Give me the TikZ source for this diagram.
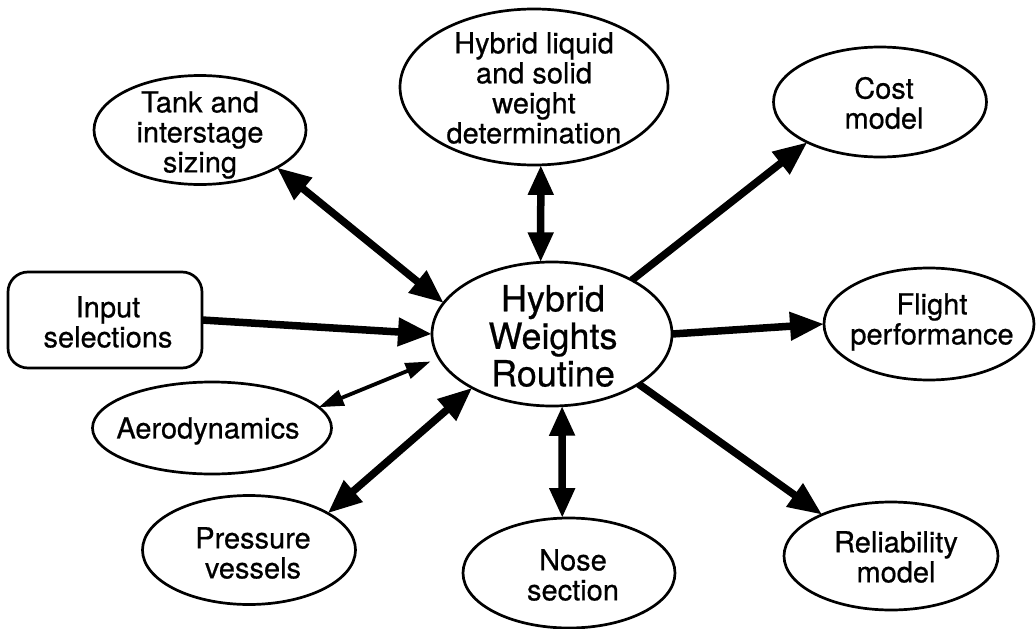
\documentclass[tikz,border=0pt]{standalone}
\usepackage{fontspec}
\setmainfont{TeX Gyre Heros}[FakeBold=0.6]
\usetikzlibrary{arrows.meta,shapes.geometric}
\tikzset{
  ell/.style={draw, ellipse, line width=2.7pt, inner sep=0pt, outer sep=0pt},
  rbox/.style={draw, rectangle, rounded corners=20pt, line width=2.7pt, inner sep=0pt, outer sep=0pt},
  txt/.style={align=center, inner sep=0pt, font=\fontsize{29}{30}\selectfont},
  bigtxt/.style={align=center, inner sep=0pt, font=\fontsize{36}{37.5}\selectfont},
  thick arrow/.style={line width=7.5pt, -{Triangle[length=34pt,width=27pt]}},
  thick double/.style={line width=7.5pt, {Triangle[length=34pt,width=27pt]}-{Triangle[length=34pt,width=27pt]}},
  vert double/.style={line width=7.5pt, {Triangle[length=30pt,width=24pt]}-{Triangle[length=30pt,width=24pt]}},
  thin double/.style={line width=3.8pt, {Triangle[length=25pt,width=16pt]}-{Triangle[length=25pt,width=16pt]}},
}
\begin{document}
\begin{tikzpicture}[x=1pt,y=-1pt]
\useasboundingbox (0,0) rectangle (1036,629);
% nodes
\node[ell, minimum width=240pt, minimum height=144pt] (hw) at (552,334) {};
\node[bigtxt] (hwT) at (553,336) {Hybrid\\Weights\\Routine};

\node[ell, minimum width=212pt, minimum height=109pt] (tank) at (200,130) {};
\node[txt] (tankT) at (200,135) {Tank and\\interstage\\sizing};

\node[ell, minimum width=268pt, minimum height=156pt] (liq) at (534,87) {};
\node[txt] (liqT) at (534,88) {Hybrid liquid\\and solid\\weight\\determination};

\node[ell, minimum width=213pt, minimum height=110pt] (cost) at (880,102) {};
\node[txt] (costT) at (884,103) {Cost\\model};

\node[rbox, minimum width=194pt, minimum height=96pt] (in) at (105,320) {};
\node[txt] (inT) at (108,322) {Input\\selections};

\node[ell, minimum width=210pt, minimum height=112pt] (fl) at (929,324) {};
\node[txt] (flT) at (932,322) {Flight\\performance};

\node[ell, minimum width=239pt, minimum height=92pt] (aero) at (212,428) {};
\node[txt] (aeroT) at (208,431) {Aerodynamics};

\node[ell, minimum width=213pt, minimum height=109pt] (pv) at (249,550) {};
\node[txt] (pvT) at (253,553) {Pressure\\vessels};

\node[ell, minimum width=212pt, minimum height=110pt] (nose) at (569,573) {};
\node[txt] (noseT) at (573,575) {Nose\\section};

\node[ell, minimum width=214pt, minimum height=108pt] (rel) at (891,556) {};
\node[txt] (relT) at (896,557) {Reliability\\model};

% connectors
\draw[thick double] (tank.-26) -- (hw.164);
\draw[vert double] (liq.-85) -- (hw.99);
\draw[thick arrow] (hw.34) -- (cost.209);
\draw[thick arrow] (in.east) -- (hw.west);
\draw[thin double, shorten >=9pt] (aero.11) -- (hw.192);
\draw[thick double] (pv.25) -- (hw.214);
\draw[vert double] (hw.-82) -- (nose.97);
\draw[thick arrow] (hw.east) -- (fl.west);
\draw[thick arrow] (hw.-30) -- (rel.149);
\end{tikzpicture}
\end{document}
